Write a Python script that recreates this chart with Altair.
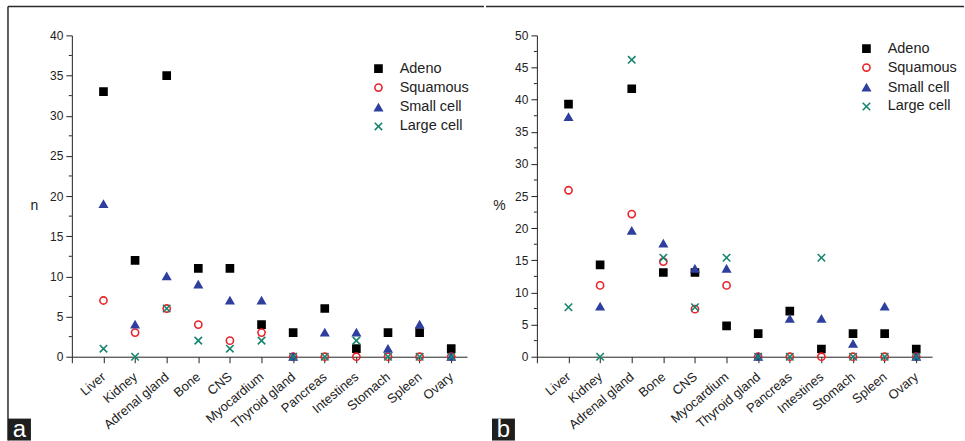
import altair as alt
import pandas as pd

organs = ["Liver", "Kidney", "Adrenal gland", "Bone", "CNS", "Myocardium",
          "Thyroid gland", "Pancreas", "Intestines", "Stomach", "Spleen", "Ovary"]
series = ["Adeno", "Squamous", "Small cell", "Large cell"]

# panel a: counts (n)
n_adeno = [33, 12, 35, 11, 11, 4, 3, 6, 1, 3, 3, 1]
n_squamous = [7, 3, 6, 4, 2, 3, 0, 0, 0, 0, 0, 0]
n_small = [19, 4, 10, 9, 7, 7, 0, 3, 3, 1, 4, 0]
n_large = [1, 0, 6, 2, 1, 2, 0, 0, 2, 0, 0, 0]

# panel b: percentages (%)
pct_adeno = [39.3, 14.3, 41.7, 13.1, 13.1, 4.8, 3.6, 7.1, 1.2, 3.6, 3.6, 1.2]
pct_squamous = [25.9, 11.1, 22.2, 14.8, 7.4, 11.1, 0, 0, 0, 0, 0, 0]
pct_small = [37.3, 7.8, 19.6, 17.6, 13.7, 13.7, 0, 5.9, 5.9, 2.0, 7.8, 0]
pct_large = [7.7, 0, 46.2, 15.4, 7.7, 15.4, 0, 0, 15.4, 0, 0, 0]

y_ticks_a = [0, 5, 10, 15, 20, 25, 30, 35, 40]
y_minor_a = [2.5, 7.5, 12.5, 17.5, 22.5, 27.5, 32.5, 37.5]
y_ticks_b = [0, 5, 10, 15, 20, 25, 30, 35, 40, 45, 50]
y_minor_b = [2.5, 7.5, 12.5, 17.5, 22.5, 27.5, 32.5, 37.5, 42.5, 47.5]

FONT = "Liberation Sans"
INK = "#222222"
shapes = ["square", "circle", "triangle-up", "M-1,-1L1,1M-1,1L1,-1"]
strokes = ["#000000", "#e8242a", "#2f3f9f", "#16856f"]
fills = ["#000000", "transparent", "#2f3f9f", "transparent"]
sizes = [50, 56, 110, 120]


def long_table(cols):
    rows = []
    for s, vals in zip(series, cols):
        for i, v in enumerate(vals):
            rows.append({"idx": i + 1, "organ": organs[i], "series": s, "value": v})
    return pd.DataFrame(rows)


label_js = "[''," + ",".join("'" + o + "'" for o in organs) + "]"
one_row = pd.DataFrame({"k": [0]})


def panel(df, ymax, yticks, yminor, ytitle, title_x, letter, box_x1, line_x1, line_x2,
          leg_x, leg_y, left_line=False):
    x_enc = alt.X("idx:Q",
                  scale=alt.Scale(domain=[0, 12.5], nice=False, zero=False),
                  axis=alt.Axis(values=list(range(13)), labelExpr=label_js + "[datum.value]",
                                labelAngle=-40, labelAlign="right", labelBaseline="middle",
                                tickSize=6, labelPadding=12, grid=False, title=None,
                                labelOverlap=False, labelFlush=False,
                                domainColor=INK, tickColor=INK, labelColor=INK,
                                labelFontSize=13, labelFont=FONT))
    y_axis = alt.Axis(values=yticks, tickSize=6, labelPadding=3, grid=False,
                      title=ytitle, titleAngle=0, titleX=title_x, titleY=170,
                      titleAlign="center", titleBaseline="middle",
                      titleFontSize=14, titleFontWeight="normal", titleFont=FONT,
                      titleColor=INK, domainColor=INK, tickColor=INK, labelColor=INK,
                      labelFontSize=12, labelFont=FONT)
    y_scale = alt.Scale(domain=[0, ymax], nice=False)
    leg = alt.Legend(orient="none", legendX=leg_x, legendY=leg_y, title=None,
                     labelFontSize=14.5, labelFont=FONT, labelColor=INK,
                     symbolStrokeWidth=1.6, labelOffset=14,
                     rowPadding=4, padding=0)
    pts = alt.Chart(df).mark_point(opacity=1, strokeWidth=1.6).encode(
        x=x_enc,
        y=alt.Y("value:Q", scale=y_scale, axis=y_axis),
        shape=alt.Shape("series:N", scale=alt.Scale(domain=series, range=shapes), legend=leg),
        fill=alt.Fill("series:N", scale=alt.Scale(domain=series, range=fills), legend=leg),
        stroke=alt.Stroke("series:N", scale=alt.Scale(domain=series, range=strokes), legend=leg),
        size=alt.Size("series:N", scale=alt.Scale(domain=series, range=sizes), legend=leg),
    )
    minor = alt.Chart(pd.DataFrame({"value": yminor})).mark_rule(color=INK, strokeWidth=1).encode(
        y=alt.Y("value:Q", scale=y_scale, axis=y_axis),
        x=alt.value(-3), x2=alt.value(0))
    top_line = alt.Chart(one_row).mark_rule(color="#2a2a2a", strokeWidth=1.5).encode(
        x=alt.value(line_x1), x2=alt.value(line_x2), y=alt.value(-29))
    box = alt.Chart(one_row).mark_rect(color="#1e1e1e").encode(
        x=alt.value(box_x1), x2=alt.value(box_x1 + 23), y=alt.value(384), y2=alt.value(406))
    txt = alt.Chart(one_row).mark_text(text=letter, fontSize=24, font=FONT, color="white",
                                       align="center", baseline="middle").encode(
        x=alt.value(box_x1 + 11.5), y=alt.value(395))
    layers = [top_line, minor, pts, box, txt]
    if left_line:
        layers.insert(0, alt.Chart(one_row).mark_rule(color="#2a2a2a", strokeWidth=1.5).encode(
            x=alt.value(-64), y=alt.value(-29), y2=alt.value(406)))
    return alt.layer(*layers).properties(width=396, height=322)


df_a = long_table([n_adeno, n_squamous, n_small, n_large])
df_b = long_table([pct_adeno, pct_squamous, pct_small, pct_large])

chart_a = panel(df_a, 40, y_ticks_a, y_minor_a, "n", -38, "a", -64, -64, 413, 300, 26,
                left_line=True)
chart_b = panel(df_b, 50, y_ticks_b, y_minor_b, "%", -38, "b", -45, -51, 428, 323, 6)

chart = alt.hconcat(chart_a, chart_b, spacing=0).resolve_scale(
    x="independent", y="independent", shape="independent", fill="independent",
    stroke="independent", size="independent"
).properties(
    padding={"left": 7, "top": 5, "right": 0, "bottom": 0},
    background="white"
).configure_view(stroke=None)

chart.save("out.html", embed_options={"renderer": "svg", "actions": False})
